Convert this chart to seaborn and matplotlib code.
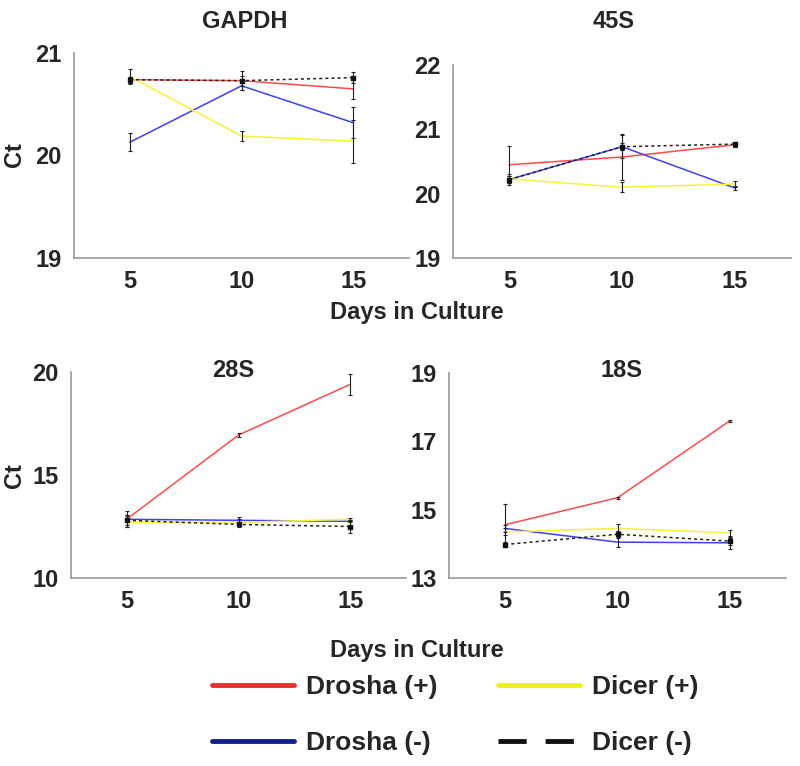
import numpy as np
import pandas as pd
import seaborn as sns
import matplotlib.pyplot as plt
from matplotlib.lines import Line2D

days = [5, 10, 15]
series_names = ["Drosha (+)", "Drosha (-)", "Dicer (+)", "Dicer (-)"]
genes = ["GAPDH", "45S", "28S", "18S"]

# Ct values, one list per series (days 5, 10, 15)
gapdh_drosha_pos = [20.74, 20.73, 20.65]
gapdh_drosha_neg = [20.13, 20.68, 20.32]
gapdh_dicer_pos = [20.77, 20.19, 20.14]
gapdh_dicer_neg = [20.74, 20.73, 20.76]

s45_drosha_pos = [20.45, 20.57, 20.76]
s45_drosha_neg = [20.22, 20.73, 20.09]
s45_dicer_pos = [20.23, 20.10, 20.15]
s45_dicer_neg = [20.22, 20.73, 20.77]

s28_drosha_pos = [12.86, 16.94, 19.40]
s28_drosha_neg = [12.85, 12.80, 12.75]
s28_dicer_pos = [12.70, 12.70, 12.85]
s28_dicer_neg = [12.80, 12.60, 12.50]

s18_drosha_pos = [14.56, 15.35, 17.60]
s18_drosha_neg = [14.45, 14.05, 14.03]
s18_dicer_pos = [14.35, 14.45, 14.32]
s18_dicer_neg = [13.98, 14.28, 14.08]

# error bar half-widths
gapdh_err = [[0.03, 0.09, 0.10], [0.09, 0.04, 0.15], [0.07, 0.05, 0.21], [0.03, 0.05, 0.05]]
s45_err = [[0.29, 0.35, 0.03], [0.06, 0.05, 0.03], [0.05, 0.08, 0.04], [0.08, 0.18, 0.04]]
s28_err = [[0.40, 0.08, 0.50], [0.15, 0.15, 0.05], [0.20, 0.15, 0.08], [0.25, 0.10, 0.30]]
s18_err = [[0.60, 0.03, 0.03], [0.10, 0.15, 0.17], [0.10, 0.12, 0.08], [0.08, 0.10, 0.10]]

gapdh_ticks = [19, 20, 21]
s45_ticks = [19, 20, 21, 22]
s28_ticks = [10, 15, 20]
s18_ticks = [13, 15, 17, 19]

values = {
    "GAPDH": [gapdh_drosha_pos, gapdh_drosha_neg, gapdh_dicer_pos, gapdh_dicer_neg],
    "45S": [s45_drosha_pos, s45_drosha_neg, s45_dicer_pos, s45_dicer_neg],
    "28S": [s28_drosha_pos, s28_drosha_neg, s28_dicer_pos, s28_dicer_neg],
    "18S": [s18_drosha_pos, s18_drosha_neg, s18_dicer_pos, s18_dicer_neg],
}
errors = {"GAPDH": gapdh_err, "45S": s45_err, "28S": s28_err, "18S": s18_err}
yticks = {"GAPDH": gapdh_ticks, "45S": s45_ticks, "28S": s28_ticks, "18S": s18_ticks}

rows = []
for g in genes:
    for name, vals, errs in zip(series_names, values[g], errors[g]):
        for d, v, e in zip(days, vals, errs):
            rows.append({"gene": g, "series": name, "day": d, "ct": v, "err": e})
df = pd.DataFrame(rows)

sns.set_style("white")
plt.rcParams["font.family"] = ["Liberation Sans", "DejaVu Sans"]
plt.rcParams["font.weight"] = "bold"

line_colors = {"Drosha (+)": "#ff4a4a", "Drosha (-)": "#4040f5",
               "Dicer (+)": "#f6f23a", "Dicer (-)": "#222222"}
line_dashes = {"Drosha (+)": "", "Drosha (-)": "", "Dicer (+)": "", "Dicer (-)": (2, 2)}

fig = plt.figure(figsize=(8, 7.66), dpi=100)
W, H = 800, 766

# axes boxes in pixels: left, right, top, bottom
boxes = {
    "GAPDH": (74, 409, 53, 258),
    "45S": (453, 791, 65, 258),
    "28S": (71, 406, 372, 578),
    "18S": (449, 786, 373, 578),
}

for g in genes:
    l, r, t, b = boxes[g]
    ax = fig.add_axes([l / W, 1 - b / H, (r - l) / W, (b - t) / H])
    sub = df[df.gene == g]
    sns.lineplot(data=sub, x="day", y="ct", hue="series", style="series",
                 palette=line_colors, dashes=line_dashes, hue_order=series_names,
                 lw=1.1, legend=False, ax=ax)
    for name in series_names:
        s = sub[sub.series == name]
        ax.errorbar(s.day, s.ct, yerr=s.err, fmt="none", ecolor="#222222",
                    elinewidth=0.8, capsize=1.5, capthick=0.8, zorder=3)
    dn = sub[sub.series == "Dicer (-)"]
    ax.scatter(dn.day, dn.ct, marker="s", s=8, color="#111111", zorder=4)

    tk = yticks[g]
    ax.set_xlim(2.5, 17.5)
    ax.set_ylim(tk[0], tk[-1])
    ax.set_yticks(tk)
    ax.set_xticks(days)
    ax.set_xticks([7.5, 12.5], minor=True)
    ax.tick_params(axis="x", which="major", length=0, labelsize=17, pad=9)
    ax.tick_params(axis="x", which="minor", length=4, direction="inout", color="#888888")
    ax.tick_params(axis="y", length=3, direction="out", color="#888888", labelsize=17, pad=6)
    for lab in ax.get_xticklabels() + ax.get_yticklabels():
        lab.set_fontweight("bold")
    ax.set_xlabel("")
    ax.set_ylabel("")
    for side in ["top", "right"]:
        ax.spines[side].set_visible(False)
    for side in ["left", "bottom"]:
        ax.spines[side].set_color("#999999")
        ax.spines[side].set_linewidth(1.2)

# panel titles
fig.text(245 / W, 1 - 22 / H, "GAPDH", ha="center", va="center", fontsize=17, fontweight="bold")
fig.text(614 / W, 1 - 22 / H, "45S", ha="center", va="center", fontsize=17, fontweight="bold")
fig.text(233 / W, 1 - 371 / H, "28S", ha="center", va="center", fontsize=17, fontweight="bold")
fig.text(621 / W, 1 - 370 / H, "18S", ha="center", va="center", fontsize=17, fontweight="bold")

# y labels
fig.text(15 / W, 1 - 155 / H, "Ct", rotation=90, ha="center", va="center", fontsize=17, fontweight="bold")
fig.text(15 / W, 1 - 476 / H, "Ct", rotation=90, ha="center", va="center", fontsize=17, fontweight="bold")

# x labels
fig.text(417 / W, 1 - 312 / H, "Days in Culture", ha="center", va="center", fontsize=17, fontweight="bold")
fig.text(417 / W, 1 - 650 / H, "Days in Culture", ha="center", va="center", fontsize=17, fontweight="bold")

handles = [
    Line2D([], [], color="#e8302a", lw=3.5),
    Line2D([], [], color="#14208a", lw=3.5),
    Line2D([], [], color="#f2ee1a", lw=3.5),
    Line2D([], [], color="#111111", lw=3.5, dashes=(5.8, 3.9)),
]
fig.legend(handles, series_names, loc="center", bbox_to_anchor=(455 / W, 1 - 715 / H),
           ncol=2, frameon=False, handlelength=3.1, handletextpad=0.45,
           columnspacing=2.3, labelspacing=1.2,
           prop={"weight": "bold", "size": 19})

fig.savefig("out.png", dpi=100)
